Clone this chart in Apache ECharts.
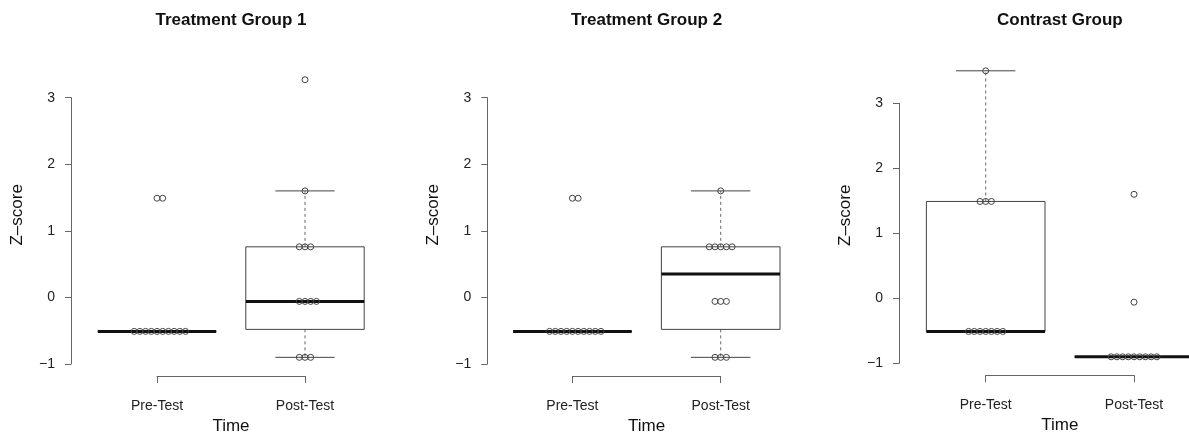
<!DOCTYPE html>
<html><head><meta charset="utf-8">
<script src="https://cdn.jsdelivr.net/npm/echarts@6/dist/echarts.min.js"></script>
<style>html,body{margin:0;padding:0;background:#fff}#c{width:1189px;height:435px}</style>
</head><body><div id="c"></div>
<script>
// ---- data ----
const panelTitles = ['Treatment Group 1', 'Treatment Group 2', 'Contrast Group'];
const categories = ['Pre-Test', 'Post-Test'];
const yTicks = [-1, 0, 1, 2, 3];
const xName = 'Time';
const yName = 'Z\u2013score';
const g1Pre  = [-0.51, -0.51, -0.51, -0.51, -0.51, -0.51, -0.51, -0.51, -0.51, -0.51, 1.49, 1.49];
const g1Post = [-0.9, -0.9, -0.9, -0.06, -0.06, -0.06, -0.06, 0.76, 0.76, 0.76, 1.6, 3.27];
const g2Pre  = [-0.51, -0.51, -0.51, -0.51, -0.51, -0.51, -0.51, -0.51, -0.51, -0.51, 1.49, 1.49];
const g2Post = [-0.9, -0.9, -0.9, -0.06, -0.06, -0.06, 0.76, 0.76, 0.76, 0.76, 0.76, 1.6];
const g3Pre  = [-0.51, -0.51, -0.51, -0.51, -0.51, -0.51, -0.51, 1.49, 1.49, 1.49, 3.5];
const g3Post = [-0.9, -0.9, -0.9, -0.9, -0.9, -0.9, -0.9, -0.9, -0.9, -0.06, 1.6];
const groups = [[g1Pre, g1Post], [g2Pre, g2Post], [g3Pre, g3Post]];

// ---- layout (pixels) ----
const layout = [
  {axisX: 71,    left: 157,   width: 148,   top: 97.7,  height: 266.3, nameShift: 32},
  {axisX: 487.3, left: 572.4, width: 148.3, top: 97.7,  height: 266.3, nameShift: 32},
  {axisX: 899,   left: 985.7, width: 148.3, top: 103.3, height: 260,   nameShift: 36}
];
const BOX_HALF = 0.4, CAP_HALF = 0.2, STACK = 0.0385;
const FONT = '"Liberation Sans", Arial, Helvetica, sans-serif';

function fivenum(x) {
  const s = x.slice().sort((a, b) => a - b), n = s.length;
  const n4 = Math.floor((n + 3) / 2) / 2;
  return [1, n4, (n + 1) / 2, n + 1 - n4, n].map(d => 0.5 * (s[Math.floor(d) - 1] + s[Math.ceil(d) - 1]));
}
function boxStats(x) {
  const f = fivenum(x), iqr = f[3] - f[1];
  const hiF = f[3] + 1.5 * iqr, loF = f[1] - 1.5 * iqr;
  const inside = x.filter(v => v >= loF && v <= hiF);
  return [Math.min(...inside), f[1], f[2], f[3], Math.max(...inside)];
}
function stackPoints(vals, cx) {
  const counts = {}, out = [];
  vals.forEach(v => { counts[v] = (counts[v] || 0) + 1; });
  Object.keys(counts).forEach(k => {
    const n = counts[k], base = Math.floor((n - 1) / 2);
    for (let i = 0; i < n; i++) out.push([cx + (i - base) * STACK, Number(k)]);
  });
  return out;
}
function renderBox(params, api) {
  const x = api.value(0);
  const half = api.size([BOX_HALF, 0])[0];
  const cap = api.size([CAP_HALF, 0])[0];
  const p = i => api.coord([x, api.value(i)]);
  const pLo = p(1), pQ1 = p(2), pMd = p(3), pQ3 = p(4), pHi = p(5);
  const cx = pMd[0];
  const line = (x1, y1, x2, y2, style) => ({type: 'line', shape: {x1, y1, x2, y2}, style});
  const whisk = {stroke: '#666', lineWidth: 1, lineDash: [3, 3]};
  const solid = {stroke: '#444', lineWidth: 1};
  const ch = [];
  if (pHi[1] < pQ3[1] - 0.5) ch.push(line(cx, pQ3[1], cx, pHi[1], whisk));
  if (pLo[1] > pQ1[1] + 0.5) ch.push(line(cx, pQ1[1], cx, pLo[1], whisk));
  ch.push(line(cx - cap, pHi[1], cx + cap, pHi[1], solid));
  ch.push(line(cx - cap, pLo[1], cx + cap, pLo[1], solid));
  ch.push({type: 'rect', shape: {x: cx - half, y: pQ3[1], width: 2 * half, height: pQ1[1] - pQ3[1]},
           style: {fill: 'none', stroke: '#444', lineWidth: 1}});
  ch.push(line(cx - half, pMd[1], cx + half, pMd[1], {stroke: '#111', lineWidth: 3}));
  return {type: 'group', children: ch};
}

const option = {
  backgroundColor: '#fff',
  animation: false,
  title: [], grid: [], xAxis: [], yAxis: [], series: []
};
layout.forEach((L, i) => {
  option.title.push({
    text: panelTitles[i], left: L.left + L.width / 2, top: 12, textAlign: 'center', padding: 0,
    textStyle: {fontFamily: FONT, fontSize: 17, fontWeight: 'bold', color: '#111'}
  });
  option.grid.push({left: L.left, top: L.top, width: L.width, height: L.height, containLabel: false, outerBoundsMode: 'none'});
  option.xAxis.push({
    type: 'value', gridIndex: i, min: 1, max: 2, interval: 1, offset: 12, position: 'bottom',
    name: xName, nameLocation: 'middle', nameGap: 38,
    nameTextStyle: {fontFamily: FONT, fontSize: 17, color: '#111'},
    axisLine: {show: true, onZero: false, lineStyle: {color: '#666', width: 1}},
    axisTick: {show: true, length: 7, lineStyle: {color: '#666'}},
    axisLabel: {show: true, margin: 23, fontFamily: FONT, fontSize: 14, color: '#222',
      showMinLabel: true, showMaxLabel: true, formatter: v => categories[Math.round(v) - 1] || ''},
    splitLine: {show: false}
  });
  option.yAxis.push({
    type: 'value', gridIndex: i, min: yTicks[0], max: yTicks[yTicks.length - 1], interval: 1,
    position: 'left', offset: L.left - L.axisX,
    name: yName, nameLocation: 'middle', nameGap: 45, nameRotate: 90,
    nameTextStyle: {fontFamily: FONT, fontSize: 17, color: '#111', padding: [0, 0, 0, L.nameShift]},
    axisLine: {show: true, onZero: false, lineStyle: {color: '#666', width: 1}},
    axisTick: {show: true, length: 6, lineStyle: {color: '#666'}},
    axisLabel: {show: true, margin: 16, fontFamily: FONT, fontSize: 14, color: '#222',
      formatter: v => String(v).replace('-', '\u2212')},
    splitLine: {show: false}
  });
  const boxData = groups[i].map((vals, k) => [k + 1].concat(boxStats(vals)));
  option.series.push({
    type: 'custom', xAxisIndex: i, yAxisIndex: i, clip: false, silent: true,
    renderItem: renderBox, encode: {x: 0, y: [1, 2, 3, 4, 5]}, data: boxData, z: 2
  });
  const pts = [];
  groups[i].forEach((vals, k) => pts.push(...stackPoints(vals, k + 1)));
  option.series.push({
    type: 'scatter', xAxisIndex: i, yAxisIndex: i, clip: false, silent: true,
    symbol: 'circle', symbolSize: 6, z: 3,
    itemStyle: {color: 'rgba(0,0,0,0)', borderColor: '#444', borderWidth: 1, opacity: 1},
    data: pts
  });
});
const chart = echarts.init(document.getElementById('c'), null, {renderer: 'canvas'});
chart.setOption(option);
</script>
</body></html>
